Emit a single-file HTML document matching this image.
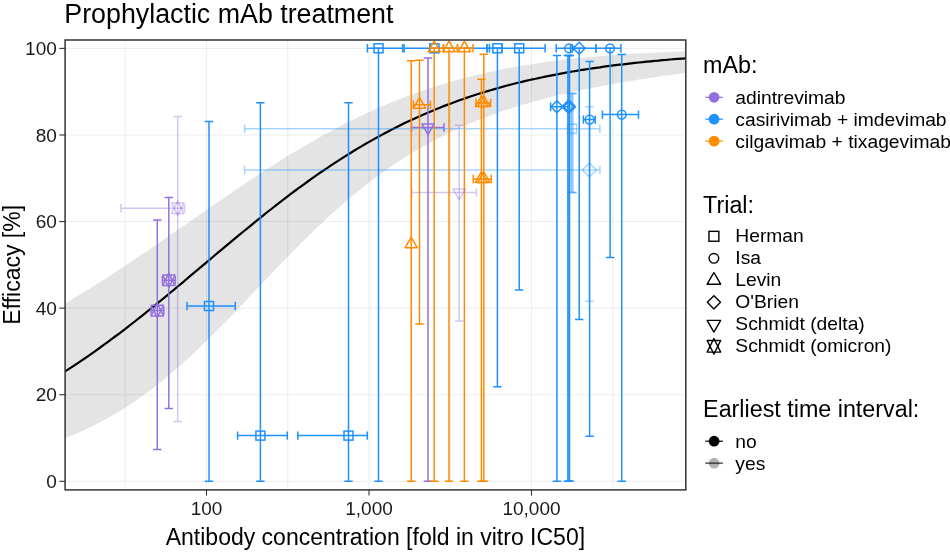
<!DOCTYPE html><html><head><meta charset="utf-8"><style>
*{margin:0;padding:0}
html,body{width:950px;height:556px;background:#fff;overflow:hidden}
svg{display:block;will-change:transform}
text{font-family:"Liberation Sans",sans-serif;fill:#000}
.ax{font-size:19px;fill:#1a1a1a}
.at{font-size:23px}
.tt{font-size:26.8px}
.lt{font-size:23.3px}
.lx{font-size:19.25px}
</style></head><body><svg width="950" height="556" viewBox="0 0 950 556"><rect width="950" height="556" fill="#fff"/><defs><clipPath id="pc"><rect x="65.1" y="40.0" width="620.70" height="449.90"/></clipPath></defs><g clip-path="url(#pc)"><line x1="125.25" x2="125.25" y1="40.0" y2="489.9" stroke="#EEEEEE" stroke-width="1.1"/><line x1="287.75" x2="287.75" y1="40.0" y2="489.9" stroke="#EEEEEE" stroke-width="1.1"/><line x1="450.25" x2="450.25" y1="40.0" y2="489.9" stroke="#EEEEEE" stroke-width="1.1"/><line x1="612.75" x2="612.75" y1="40.0" y2="489.9" stroke="#EEEEEE" stroke-width="1.1"/><line x1="65.1" x2="685.8" y1="481.30" y2="481.30" stroke="#EEEEEE" stroke-width="1.1"/><line x1="65.1" x2="685.8" y1="394.72" y2="394.72" stroke="#EEEEEE" stroke-width="1.1"/><line x1="65.1" x2="685.8" y1="308.14" y2="308.14" stroke="#EEEEEE" stroke-width="1.1"/><line x1="65.1" x2="685.8" y1="221.56" y2="221.56" stroke="#EEEEEE" stroke-width="1.1"/><line x1="65.1" x2="685.8" y1="134.98" y2="134.98" stroke="#EEEEEE" stroke-width="1.1"/><line x1="65.1" x2="685.8" y1="48.40" y2="48.40" stroke="#EEEEEE" stroke-width="1.1"/><line x1="206.50" x2="206.50" y1="40.0" y2="489.9" stroke="#EEEEEE" stroke-width="1.1"/><line x1="369.00" x2="369.00" y1="40.0" y2="489.9" stroke="#EEEEEE" stroke-width="1.1"/><line x1="531.50" x2="531.50" y1="40.0" y2="489.9" stroke="#EEEEEE" stroke-width="1.1"/><polygon points="65.1,303.5 69.0,301.2 72.9,298.8 76.8,296.5 80.7,294.1 84.6,291.7 88.5,289.3 92.4,286.8 96.3,284.4 100.2,281.9 104.1,279.4 108.0,276.9 111.9,274.3 115.8,271.8 119.8,269.2 123.7,266.7 127.6,264.1 131.5,261.5 135.4,258.8 139.3,256.2 143.2,253.6 147.1,250.9 151.0,248.3 154.9,245.6 158.8,242.9 162.7,240.2 166.6,237.5 170.5,234.8 174.4,232.1 178.3,229.4 182.2,226.7 186.1,224.0 190.0,221.3 193.9,218.6 197.8,215.9 201.7,213.2 205.6,210.5 209.5,207.8 213.4,205.1 217.3,202.4 221.3,199.7 225.2,197.0 229.1,194.4 233.0,191.7 236.9,189.1 240.8,186.4 244.7,183.8 248.6,181.2 252.5,178.6 256.4,176.0 260.3,173.5 264.2,170.9 268.1,168.4 272.0,165.9 275.9,163.4 279.8,161.0 283.7,158.5 287.6,156.1 291.5,153.7 295.4,151.4 299.3,149.0 303.2,146.7 307.1,144.4 311.0,142.2 314.9,139.9 318.8,137.7 322.7,135.6 326.7,133.4 330.6,131.3 334.5,129.2 338.4,127.2 342.3,125.1 346.2,123.1 350.1,121.2 354.0,119.2 357.9,117.3 361.8,115.5 365.7,113.6 369.6,111.8 373.5,110.1 377.4,108.3 381.3,106.6 385.2,105.0 389.1,103.3 393.0,101.7 396.9,100.2 400.8,98.6 404.7,97.1 408.6,95.6 412.5,94.2 416.4,92.8 420.3,91.4 424.2,90.1 428.2,88.8 432.1,87.5 436.0,86.2 439.9,85.0 443.8,83.8 447.7,82.7 451.6,81.5 455.5,80.4 459.4,79.3 463.3,78.3 467.2,77.3 471.1,76.3 475.0,75.3 478.9,74.4 482.8,73.5 486.7,72.6 490.6,71.8 494.5,70.9 498.4,70.1 502.3,69.3 506.2,68.6 510.1,67.8 514.0,67.1 517.9,66.4 521.8,65.7 525.7,65.1 529.6,64.5 533.6,63.9 537.5,63.3 541.4,62.7 545.3,62.1 549.2,61.6 553.1,61.1 557.0,60.6 560.9,60.1 564.8,59.6 568.7,59.2 572.6,58.8 576.5,58.3 580.4,57.9 584.3,57.6 588.2,57.2 592.1,56.8 596.0,56.5 599.9,56.1 603.8,55.8 607.7,55.5 611.6,55.2 615.5,54.9 619.4,54.6 623.3,54.4 627.2,54.1 631.1,53.9 635.1,53.6 639.0,53.4 642.9,53.2 646.8,53.0 650.7,52.8 654.6,52.6 658.5,52.4 662.4,52.2 666.3,52.0 670.2,51.9 674.1,51.7 678.0,51.5 681.9,51.4 685.8,51.3 685.8,72.9 681.9,73.4 678.0,73.9 674.1,74.5 670.2,75.0 666.3,75.5 662.4,76.1 658.5,76.7 654.6,77.2 650.7,77.8 646.8,78.4 642.9,79.0 639.0,79.6 635.1,80.2 631.1,80.9 627.2,81.5 623.3,82.2 619.4,82.8 615.5,83.5 611.6,84.2 607.7,84.9 603.8,85.6 599.9,86.4 596.0,87.1 592.1,87.9 588.2,88.7 584.3,89.5 580.4,90.3 576.5,91.1 572.6,92.0 568.7,92.8 564.8,93.7 560.9,94.6 557.0,95.6 553.1,96.5 549.2,97.5 545.3,98.5 541.4,99.5 537.5,100.6 533.6,101.7 529.6,102.8 525.7,103.9 521.8,105.1 517.9,106.2 514.0,107.5 510.1,108.7 506.2,110.0 502.3,111.3 498.4,112.6 494.5,114.0 490.6,115.4 486.7,116.9 482.8,118.4 478.9,119.9 475.0,121.5 471.1,123.1 467.2,124.7 463.3,126.4 459.4,128.2 455.5,129.9 451.6,131.8 447.7,133.6 443.8,135.5 439.9,137.5 436.0,139.5 432.1,141.6 428.2,143.7 424.2,145.9 420.3,148.1 416.4,150.4 412.5,152.7 408.6,155.1 404.7,157.5 400.8,160.0 396.9,162.6 393.0,165.2 389.1,167.9 385.2,170.6 381.3,173.4 377.4,176.2 373.5,179.1 369.6,182.1 365.7,185.1 361.8,188.2 357.9,191.4 354.0,194.6 350.1,197.8 346.2,201.1 342.3,204.5 338.4,207.9 334.5,211.4 330.6,215.0 326.7,218.6 322.7,222.2 318.8,225.9 314.9,229.6 311.0,233.4 307.1,237.2 303.2,241.1 299.3,245.0 295.4,248.9 291.5,252.9 287.6,256.9 283.7,260.9 279.8,265.0 275.9,269.0 272.0,273.1 268.1,277.2 264.2,281.3 260.3,285.5 256.4,289.6 252.5,293.7 248.6,297.8 244.7,301.9 240.8,306.0 236.9,310.1 233.0,314.2 229.1,318.2 225.2,322.2 221.3,326.2 217.3,330.2 213.4,334.1 209.5,338.0 205.6,341.8 201.7,345.6 197.8,349.3 193.9,353.0 190.0,356.7 186.1,360.2 182.2,363.8 178.3,367.2 174.4,370.6 170.5,374.0 166.6,377.2 162.7,380.4 158.8,383.6 154.9,386.7 151.0,389.7 147.1,392.6 143.2,395.4 139.3,398.2 135.4,400.9 131.5,403.6 127.6,406.2 123.7,408.7 119.8,411.1 115.8,413.5 111.9,415.8 108.0,418.0 104.1,420.1 100.2,422.2 96.3,424.3 92.4,426.2 88.5,428.1 84.6,430.0 80.7,431.7 76.8,433.4 72.9,435.1 69.0,436.7 65.1,438.2" fill="#000" fill-opacity="0.105"/><polyline points="65.1,371.4 69.0,368.9 72.9,366.3 76.8,363.8 80.7,361.1 84.6,358.5 88.5,355.8 92.4,353.1 96.3,350.3 100.2,347.5 104.1,344.7 108.0,341.8 111.9,338.9 115.8,336.0 119.8,333.1 123.7,330.1 127.6,327.1 131.5,324.0 135.4,321.0 139.3,317.9 143.2,314.8 147.1,311.7 151.0,308.5 154.9,305.4 158.8,302.2 162.7,299.0 166.6,295.8 170.5,292.5 174.4,289.3 178.3,286.0 182.2,282.8 186.1,279.5 190.0,276.2 193.9,272.9 197.8,269.7 201.7,266.4 205.6,263.1 209.5,259.8 213.4,256.5 217.3,253.2 221.3,249.9 225.2,246.7 229.1,243.4 233.0,240.1 236.9,236.9 240.8,233.7 244.7,230.5 248.6,227.3 252.5,224.1 256.4,220.9 260.3,217.8 264.2,214.6 268.1,211.5 272.0,208.5 275.9,205.4 279.8,202.4 283.7,199.4 287.6,196.4 291.5,193.4 295.4,190.5 299.3,187.6 303.2,184.8 307.1,182.0 311.0,179.2 314.9,176.4 318.8,173.7 322.7,171.0 326.7,168.3 330.6,165.7 334.5,163.1 338.4,160.6 342.3,158.1 346.2,155.6 350.1,153.2 354.0,150.8 357.9,148.4 361.8,146.1 365.7,143.8 369.6,141.6 373.5,139.4 377.4,137.2 381.3,135.1 385.2,133.0 389.1,131.0 393.0,128.9 396.9,127.0 400.8,125.0 404.7,123.1 408.6,121.3 412.5,119.4 416.4,117.7 420.3,115.9 424.2,114.2 428.2,112.5 432.1,110.9 436.0,109.3 439.9,107.7 443.8,106.1 447.7,104.6 451.6,103.2 455.5,101.7 459.4,100.3 463.3,99.0 467.2,97.6 471.1,96.3 475.0,95.0 478.9,93.8 482.8,92.6 486.7,91.4 490.6,90.2 494.5,89.1 498.4,88.0 502.3,86.9 506.2,85.8 510.1,84.8 514.0,83.8 517.9,82.8 521.8,81.9 525.7,80.9 529.6,80.0 533.6,79.2 537.5,78.3 541.4,77.5 545.3,76.7 549.2,75.9 553.1,75.1 557.0,74.3 560.9,73.6 564.8,72.9 568.7,72.2 572.6,71.5 576.5,70.9 580.4,70.2 584.3,69.6 588.2,69.0 592.1,68.4 596.0,67.8 599.9,67.3 603.8,66.7 607.7,66.2 611.6,65.7 615.5,65.2 619.4,64.7 623.3,64.3 627.2,63.8 631.1,63.3 635.1,62.9 639.0,62.5 642.9,62.1 646.8,61.7 650.7,61.3 654.6,60.9 658.5,60.6 662.4,60.2 666.3,59.9 670.2,59.5 674.1,59.2 678.0,58.9 681.9,58.6 685.8,58.3" fill="none" stroke="#000" stroke-width="2.2" stroke-linejoin="round"/><path d="M157.30,219.90V449.60M153.10,219.90H161.50M153.10,449.60H161.50" stroke="#9370DB" stroke-width="1.5" stroke-opacity="1" fill="none"/><path d="M151.00,310.60H163.80M151.00,306.40V314.80M163.80,306.40V314.80" stroke="#9370DB" stroke-width="1.5" stroke-opacity="1" fill="none"/><path d="M168.80,197.50V408.60M164.60,197.50H173.00M164.60,408.60H173.00" stroke="#9370DB" stroke-width="1.5" stroke-opacity="1" fill="none"/><path d="M162.40,280.30H175.30M162.40,276.10V284.50M175.30,276.10V284.50" stroke="#9370DB" stroke-width="1.5" stroke-opacity="1" fill="none"/><path d="M428.00,57.90V481.30M423.80,57.90H432.20M423.80,481.30H432.20" stroke="#9370DB" stroke-width="1.5" stroke-opacity="1" fill="none"/><path d="M411.60,127.50H444.00M411.60,123.30V131.70M444.00,123.30V131.70" stroke="#9370DB" stroke-width="1.5" stroke-opacity="1" fill="none"/><path d="M177.70,116.60V421.50M173.50,116.60H181.90M173.50,421.50H181.90" stroke="#9370DB" stroke-width="1.5" stroke-opacity="0.4" fill="none"/><path d="M121.00,208.20H184.50M121.00,204.00V212.40M184.50,204.00V212.40" stroke="#9370DB" stroke-width="1.5" stroke-opacity="0.4" fill="none"/><path d="M459.20,125.20V320.90M455.00,125.20H463.40M455.00,320.90H463.40" stroke="#9370DB" stroke-width="1.5" stroke-opacity="0.4" fill="none"/><path d="M411.90,192.60H476.40M411.90,188.40V196.80M476.40,188.40V196.80" stroke="#9370DB" stroke-width="1.5" stroke-opacity="0.4" fill="none"/><path d="M209.00,121.40V481.30M204.80,121.40H213.20M204.80,481.30H213.20" stroke="#1E90FF" stroke-width="1.5" stroke-opacity="1" fill="none"/><path d="M187.00,306.00H235.30M187.00,301.80V310.20M235.30,301.80V310.20" stroke="#1E90FF" stroke-width="1.5" stroke-opacity="1" fill="none"/><path d="M260.40,102.70V481.30M256.20,102.70H264.60M256.20,481.30H264.60" stroke="#1E90FF" stroke-width="1.5" stroke-opacity="1" fill="none"/><path d="M237.60,435.60H287.30M237.60,431.40V439.80M287.30,431.40V439.80" stroke="#1E90FF" stroke-width="1.5" stroke-opacity="1" fill="none"/><path d="M348.50,102.70V481.30M344.30,102.70H352.70M344.30,481.30H352.70" stroke="#1E90FF" stroke-width="1.5" stroke-opacity="1" fill="none"/><path d="M297.80,435.60H367.30M297.80,431.40V439.80M367.30,431.40V439.80" stroke="#1E90FF" stroke-width="1.5" stroke-opacity="1" fill="none"/><path d="M378.50,48.30V481.30M374.30,48.30H382.70M374.30,481.30H382.70" stroke="#1E90FF" stroke-width="1.5" stroke-opacity="1" fill="none"/><path d="M367.40,48.30H402.70M367.40,44.10V52.50M402.70,44.10V52.50" stroke="#1E90FF" stroke-width="1.5" stroke-opacity="1" fill="none"/><path d="M404.10,48.30H487.00M404.10,44.10V52.50M487.00,44.10V52.50" stroke="#1E90FF" stroke-width="1.5" stroke-opacity="1" fill="none"/><path d="M497.40,48.30V386.70M493.20,48.30H501.60M493.20,386.70H501.60" stroke="#1E90FF" stroke-width="1.5" stroke-opacity="1" fill="none"/><path d="M489.40,48.30H502.00M489.40,44.10V52.50M502.00,44.10V52.50" stroke="#1E90FF" stroke-width="1.5" stroke-opacity="1" fill="none"/><path d="M519.20,48.30V290.00M515.00,48.30H523.40M515.00,290.00H523.40" stroke="#1E90FF" stroke-width="1.5" stroke-opacity="1" fill="none"/><path d="M487.00,48.30H545.10M487.00,44.10V52.50M545.10,44.10V52.50" stroke="#1E90FF" stroke-width="1.5" stroke-opacity="1" fill="none"/><path d="M556.90,55.40V481.30M552.70,55.40H561.10M552.70,481.30H561.10" stroke="#1E90FF" stroke-width="1.5" stroke-opacity="1" fill="none"/><path d="M550.60,106.70H569.50M550.60,102.50V110.90" stroke="#1E90FF" stroke-width="1.5" stroke-opacity="1" fill="none"/><path d="M569.50,55.40V481.30M565.30,55.40H573.70M565.30,481.30H573.70" stroke="#1E90FF" stroke-width="1.5" stroke-opacity="1" fill="none"/><path d="M567.90,55.40V481.30M563.70,55.40H572.10M563.70,481.30H572.10" stroke="#1E90FF" stroke-width="1.5" stroke-opacity="1" fill="none"/><path d="M569.20,55.40V481.30M565.00,55.40H573.40M565.00,481.30H573.40" stroke="#1E90FF" stroke-width="1.5" stroke-opacity="1" fill="none"/><path d="M556.20,48.30H572.20M556.20,44.10V52.50M572.20,44.10V52.50" stroke="#1E90FF" stroke-width="1.5" stroke-opacity="1" fill="none"/><path d="M579.20,48.30V319.60M575.00,48.30H583.40M575.00,319.60H583.40" stroke="#1E90FF" stroke-width="1.5" stroke-opacity="1" fill="none"/><path d="M570.50,48.30H595.80M570.50,44.10V52.50M595.80,44.10V52.50" stroke="#1E90FF" stroke-width="1.5" stroke-opacity="1" fill="none"/><path d="M589.60,61.50V436.30M585.40,61.50H593.80M585.40,436.30H593.80" stroke="#1E90FF" stroke-width="1.5" stroke-opacity="1" fill="none"/><path d="M583.40,119.60H595.20M583.40,115.40V123.80M595.20,115.40V123.80" stroke="#1E90FF" stroke-width="1.5" stroke-opacity="1" fill="none"/><path d="M610.10,48.30V257.40M605.90,48.30H614.30M605.90,257.40H614.30" stroke="#1E90FF" stroke-width="1.5" stroke-opacity="1" fill="none"/><path d="M595.80,48.30H620.90M595.80,44.10V52.50M620.90,44.10V52.50" stroke="#1E90FF" stroke-width="1.5" stroke-opacity="1" fill="none"/><path d="M621.70,54.60V481.30M617.50,54.60H625.90M617.50,481.30H625.90" stroke="#1E90FF" stroke-width="1.5" stroke-opacity="1" fill="none"/><path d="M602.40,114.60H638.50M602.40,110.40V118.80M638.50,110.40V118.80" stroke="#1E90FF" stroke-width="1.5" stroke-opacity="1" fill="none"/><path d="M572.00,93.40V192.60M567.80,93.40H576.20M567.80,192.60H576.20" stroke="#1E90FF" stroke-width="1.5" stroke-opacity="0.4" fill="none"/><path d="M244.60,128.70H599.90M244.60,124.50V132.90M599.90,124.50V132.90" stroke="#1E90FF" stroke-width="1.5" stroke-opacity="0.4" fill="none"/><path d="M571.00,93.40V192.60M566.80,93.40H575.20M566.80,192.60H575.20" stroke="#1E90FF" stroke-width="1.5" stroke-opacity="0.4" fill="none"/><path d="M573.00,93.40V192.60M568.80,93.40H577.20M568.80,192.60H577.20" stroke="#1E90FF" stroke-width="1.5" stroke-opacity="0.4" fill="none"/><path d="M589.40,106.70V301.20M585.20,106.70H593.60M585.20,301.20H593.60" stroke="#1E90FF" stroke-width="1.5" stroke-opacity="0.4" fill="none"/><path d="M244.60,170.00H599.90M244.60,165.80V174.20M599.90,165.80V174.20" stroke="#1E90FF" stroke-width="1.5" stroke-opacity="0.4" fill="none"/><path d="M411.20,60.70V481.30M407.00,60.70H415.40M407.00,481.30H415.40" stroke="#FF8C00" stroke-width="1.5" stroke-opacity="1" fill="none"/><path d="M419.50,60.20V324.10M415.30,60.20H423.70M415.30,324.10H423.70" stroke="#FF8C00" stroke-width="1.5" stroke-opacity="1" fill="none"/><path d="M413.40,104.80H430.50M413.40,100.60V109.00M430.50,100.60V109.00" stroke="#FF8C00" stroke-width="1.5" stroke-opacity="1" fill="none"/><path d="M434.20,48.30V481.30M430.00,48.30H438.40M430.00,481.30H438.40" stroke="#FF8C00" stroke-width="1.5" stroke-opacity="1" fill="none"/><path d="M430.10,48.30H443.50M430.10,44.10V52.50M443.50,44.10V52.50" stroke="#FF8C00" stroke-width="1.5" stroke-opacity="1" fill="none"/><path d="M449.00,48.30V481.30M444.80,48.30H453.20M444.80,481.30H453.20" stroke="#FF8C00" stroke-width="1.5" stroke-opacity="1" fill="none"/><path d="M443.50,48.30H457.40M443.50,44.10V52.50M457.40,44.10V52.50" stroke="#FF8C00" stroke-width="1.5" stroke-opacity="1" fill="none"/><path d="M464.40,48.30V481.30M460.20,48.30H468.60M460.20,481.30H468.60" stroke="#FF8C00" stroke-width="1.5" stroke-opacity="1" fill="none"/><path d="M457.40,48.30H473.00M457.40,44.10V52.50M473.00,44.10V52.50" stroke="#FF8C00" stroke-width="1.5" stroke-opacity="1" fill="none"/><path d="M483.80,54.30V481.30M479.60,54.30H488.00M479.60,481.30H488.00" stroke="#FF8C00" stroke-width="1.5" stroke-opacity="1" fill="none"/><path d="M475.90,102.90H490.60M475.90,98.70V107.10M490.60,98.70V107.10" stroke="#FF8C00" stroke-width="1.5" stroke-opacity="1" fill="none"/><path d="M481.40,79.30V481.30M477.20,79.30H485.60M477.20,481.30H485.60" stroke="#FF8C00" stroke-width="1.5" stroke-opacity="1" fill="none"/><path d="M473.30,179.00H491.30M473.30,174.80V183.20M491.30,174.80V183.20" stroke="#FF8C00" stroke-width="1.5" stroke-opacity="1" fill="none"/><polygon points="157.30,303.50 163.45,315.93 151.15,315.93" fill="none" stroke="#9370DB" stroke-width="1.5" stroke-opacity="1" stroke-linejoin="round"/><polygon points="157.30,317.70 163.45,305.28 151.15,305.28" fill="none" stroke="#9370DB" stroke-width="1.5" stroke-opacity="1" stroke-linejoin="round"/><polygon points="168.80,273.20 174.95,285.62 162.65,285.62" fill="none" stroke="#9370DB" stroke-width="1.5" stroke-opacity="1" stroke-linejoin="round"/><polygon points="168.80,287.40 174.95,274.98 162.65,274.98" fill="none" stroke="#9370DB" stroke-width="1.5" stroke-opacity="1" stroke-linejoin="round"/><polygon points="428.00,134.60 434.15,123.95 421.85,123.95" fill="none" stroke="#9370DB" stroke-width="1.5" stroke-opacity="1" stroke-linejoin="round"/><polygon points="177.70,201.10 183.85,213.52 171.55,213.52" fill="none" stroke="#9370DB" stroke-width="1.5" stroke-opacity="0.4" stroke-linejoin="round"/><polygon points="177.70,215.30 183.85,202.88 171.55,202.88" fill="none" stroke="#9370DB" stroke-width="1.5" stroke-opacity="0.4" stroke-linejoin="round"/><polygon points="459.20,199.70 465.35,189.05 453.05,189.05" fill="none" stroke="#9370DB" stroke-width="1.5" stroke-opacity="0.4" stroke-linejoin="round"/><rect x="204.50" y="301.50" width="9.0" height="9.0" fill="none" stroke="#1E90FF" stroke-width="1.5" stroke-opacity="1"/><rect x="255.90" y="431.10" width="9.0" height="9.0" fill="none" stroke="#1E90FF" stroke-width="1.5" stroke-opacity="1"/><rect x="344.00" y="431.10" width="9.0" height="9.0" fill="none" stroke="#1E90FF" stroke-width="1.5" stroke-opacity="1"/><rect x="374.00" y="43.80" width="9.0" height="9.0" fill="none" stroke="#1E90FF" stroke-width="1.5" stroke-opacity="1"/><rect x="429.90" y="43.80" width="9.0" height="9.0" fill="none" stroke="#1E90FF" stroke-width="1.5" stroke-opacity="1"/><rect x="492.90" y="43.80" width="9.0" height="9.0" fill="none" stroke="#1E90FF" stroke-width="1.5" stroke-opacity="1"/><rect x="514.70" y="43.80" width="9.0" height="9.0" fill="none" stroke="#1E90FF" stroke-width="1.5" stroke-opacity="1"/><polygon points="556.90,100.70 562.90,106.70 556.90,112.70 550.90,106.70" fill="none" stroke="#1E90FF" stroke-width="1.5" stroke-opacity="1" stroke-linejoin="round"/><polygon points="569.50,100.70 575.50,106.70 569.50,112.70 563.50,106.70" fill="none" stroke="#1E90FF" stroke-width="1.5" stroke-opacity="1" stroke-linejoin="round"/><polygon points="567.90,100.70 573.90,106.70 567.90,112.70 561.90,106.70" fill="none" stroke="#1E90FF" stroke-width="1.5" stroke-opacity="1" stroke-linejoin="round"/><circle cx="569.20" cy="48.30" r="4.40" fill="none" stroke="#1E90FF" stroke-width="1.5" stroke-opacity="1"/><polygon points="579.20,42.30 585.20,48.30 579.20,54.30 573.20,48.30" fill="none" stroke="#1E90FF" stroke-width="1.5" stroke-opacity="1" stroke-linejoin="round"/><circle cx="589.60" cy="119.60" r="4.40" fill="none" stroke="#1E90FF" stroke-width="1.5" stroke-opacity="1"/><circle cx="610.10" cy="48.30" r="4.40" fill="none" stroke="#1E90FF" stroke-width="1.5" stroke-opacity="1"/><circle cx="621.70" cy="114.60" r="4.40" fill="none" stroke="#1E90FF" stroke-width="1.5" stroke-opacity="1"/><rect x="567.50" y="124.20" width="9.0" height="9.0" fill="none" stroke="#1E90FF" stroke-width="1.5" stroke-opacity="0.4"/><polygon points="589.40,163.00 596.40,170.00 589.40,177.00 582.40,170.00" fill="none" stroke="#1E90FF" stroke-width="1.5" stroke-opacity="0.4" stroke-linejoin="round"/><polygon points="411.20,237.20 417.35,247.85 405.05,247.85" fill="none" stroke="#FF8C00" stroke-width="1.5" stroke-opacity="1" stroke-linejoin="round"/><polygon points="419.50,97.70 425.65,108.35 413.35,108.35" fill="none" stroke="#FF8C00" stroke-width="1.5" stroke-opacity="1" stroke-linejoin="round"/><polygon points="434.20,41.20 440.35,51.85 428.05,51.85" fill="none" stroke="#FF8C00" stroke-width="1.5" stroke-opacity="1" stroke-linejoin="round"/><polygon points="449.00,41.20 455.15,51.85 442.85,51.85" fill="none" stroke="#FF8C00" stroke-width="1.5" stroke-opacity="1" stroke-linejoin="round"/><polygon points="464.40,41.20 470.55,51.85 458.25,51.85" fill="none" stroke="#FF8C00" stroke-width="1.5" stroke-opacity="1" stroke-linejoin="round"/><polygon points="483.80,95.80 489.95,106.45 477.65,106.45" fill="none" stroke="#FF8C00" stroke-width="1.5" stroke-opacity="1" stroke-linejoin="round"/><polygon points="481.50,95.80 487.65,106.45 475.35,106.45" fill="none" stroke="#FF8C00" stroke-width="1.5" stroke-opacity="1" stroke-linejoin="round"/><polygon points="481.40,171.90 487.55,182.55 475.25,182.55" fill="none" stroke="#FF8C00" stroke-width="1.5" stroke-opacity="1" stroke-linejoin="round"/><polygon points="483.80,171.90 489.95,182.55 477.65,182.55" fill="none" stroke="#FF8C00" stroke-width="1.5" stroke-opacity="1" stroke-linejoin="round"/></g><rect x="65.1" y="40.0" width="620.70" height="449.90" fill="none" stroke="#333333" stroke-width="1.5"/><line x1="59.3" x2="65.1" y1="481.30" y2="481.30" stroke="#333333" stroke-width="1.1"/><text x="56.8" y="487.90" text-anchor="end" class="ax">0</text><line x1="59.3" x2="65.1" y1="394.72" y2="394.72" stroke="#333333" stroke-width="1.1"/><text x="56.8" y="401.32" text-anchor="end" class="ax">20</text><line x1="59.3" x2="65.1" y1="308.14" y2="308.14" stroke="#333333" stroke-width="1.1"/><text x="56.8" y="314.74" text-anchor="end" class="ax">40</text><line x1="59.3" x2="65.1" y1="221.56" y2="221.56" stroke="#333333" stroke-width="1.1"/><text x="56.8" y="228.16" text-anchor="end" class="ax">60</text><line x1="59.3" x2="65.1" y1="134.98" y2="134.98" stroke="#333333" stroke-width="1.1"/><text x="56.8" y="141.58" text-anchor="end" class="ax">80</text><line x1="59.3" x2="65.1" y1="48.40" y2="48.40" stroke="#333333" stroke-width="1.1"/><text x="56.8" y="55.00" text-anchor="end" class="ax">100</text><line x1="206.50" x2="206.50" y1="489.9" y2="495.6" stroke="#333333" stroke-width="1.1"/><text x="206.50" y="514.6" text-anchor="middle" class="ax">100</text><line x1="369.00" x2="369.00" y1="489.9" y2="495.6" stroke="#333333" stroke-width="1.1"/><text x="369.00" y="514.6" text-anchor="middle" class="ax">1,000</text><line x1="531.50" x2="531.50" y1="489.9" y2="495.6" stroke="#333333" stroke-width="1.1"/><text x="531.50" y="514.6" text-anchor="middle" class="ax">10,000</text><text x="375.4" y="545.0" text-anchor="middle" class="at">Antibody concentration [fold in vitro IC50]</text><text transform="translate(19.8,264.8) rotate(-90)" text-anchor="middle" class="at">Efficacy [%]</text><text x="64.3" y="22.9" class="tt">Prophylactic mAb treatment</text><text x="703.1" y="73.3" class="lt">mAb:</text><line x1="705.3" x2="722.9" y1="97.30" y2="97.30" stroke="#9370DB" stroke-width="1.2"/><circle cx="714.1" cy="97.30" r="5.4" fill="#9370DB"/><text x="735.3" y="103.80" class="lx">adintrevimab</text><line x1="705.3" x2="722.9" y1="119.20" y2="119.20" stroke="#1E90FF" stroke-width="1.2"/><circle cx="714.1" cy="119.20" r="5.4" fill="#1E90FF"/><text x="735.3" y="125.70" class="lx">casirivimab + imdevimab</text><line x1="705.3" x2="722.9" y1="141.10" y2="141.10" stroke="#FF8C00" stroke-width="1.2"/><circle cx="714.1" cy="141.10" r="5.4" fill="#FF8C00"/><text x="735.3" y="147.60" class="lx">cilgavimab + tixagevimab</text><text x="703.1" y="213.0" class="lt">Trial:</text><rect x="708.95" y="231.35" width="9.9" height="9.9" fill="none" stroke="#000" stroke-width="1.4" stroke-opacity="1"/><text x="735.3" y="242.40" class="lx">Herman</text><circle cx="713.90" cy="258.30" r="4.84" fill="none" stroke="#000" stroke-width="1.4" stroke-opacity="1"/><text x="735.3" y="264.40" class="lx">Isa</text><polygon points="713.90,272.49 720.66,284.20 707.14,284.20" fill="none" stroke="#000" stroke-width="1.4" stroke-opacity="1" stroke-linejoin="round"/><text x="735.3" y="286.40" class="lx">Levin</text><polygon points="713.90,295.70 720.50,302.30 713.90,308.90 707.30,302.30" fill="none" stroke="#000" stroke-width="1.4" stroke-opacity="1" stroke-linejoin="round"/><text x="735.3" y="308.40" class="lx">O'Brien</text><polygon points="713.90,332.11 720.66,320.40 707.14,320.40" fill="none" stroke="#000" stroke-width="1.4" stroke-opacity="1" stroke-linejoin="round"/><text x="735.3" y="330.40" class="lx">Schmidt (delta)</text><polygon points="713.90,338.49 720.66,352.16 707.14,352.16" fill="none" stroke="#000" stroke-width="1.4" stroke-opacity="1" stroke-linejoin="round"/><polygon points="713.90,354.11 720.66,340.44 707.14,340.44" fill="none" stroke="#000" stroke-width="1.4" stroke-opacity="1" stroke-linejoin="round"/><text x="735.3" y="352.40" class="lx">Schmidt (omicron)</text><text x="703.1" y="417.0" class="lt">Earliest time interval:</text><circle cx="714.1" cy="441.20" r="5.4" fill="#000" fill-opacity="1"/><line x1="705.3" x2="722.9" y1="441.20" y2="441.20" stroke="#000" stroke-opacity="1" stroke-width="1.2"/><text x="735.3" y="447.70" class="lx">no</text><circle cx="714.1" cy="463.20" r="5.4" fill="#000" fill-opacity="0.3"/><line x1="705.3" x2="722.9" y1="463.20" y2="463.20" stroke="#000" stroke-opacity="0.6" stroke-width="1.7"/><text x="735.3" y="469.70" class="lx">yes</text></svg></body></html>
